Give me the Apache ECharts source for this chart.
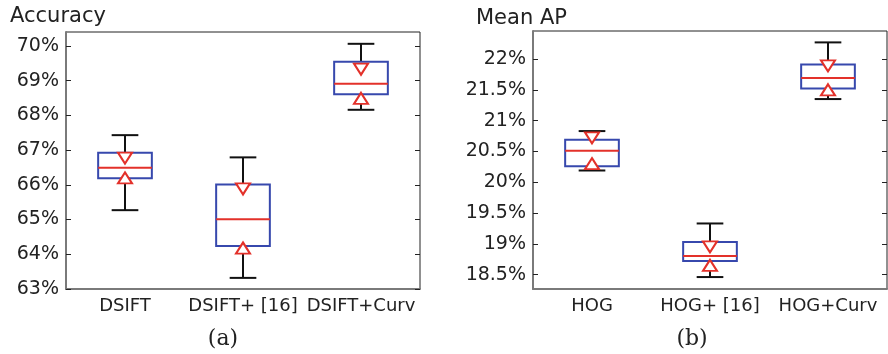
<!DOCTYPE html>
<html>
<head>
<meta charset="utf-8">
<script src="https://cdn.jsdelivr.net/npm/echarts@6/dist/echarts.min.js"></script>
<style>
  html, body { margin: 0; padding: 0; background: #fff; }
  #chart { width: 888px; height: 354px; }
</style>
</head>
<body>
<div id="chart"></div>
<script>
  // panel (a): accuracy
  const catsA = ['DSIFT', 'DSIFT+ [16]', 'DSIFT+Curv'];
  const lowA = [65.27, 63.32, 68.16];
  const q1A = [66.19, 64.24, 68.61];
  const medA = [66.49, 65.01, 68.91];
  const q3A = [66.92, 66.01, 69.54];
  const highA = [67.43, 66.79, 70.06];
  const notchLoA = [66.20, 64.18, 68.49];
  const notchHiA = [66.77, 65.88, 69.33];
  const ticksA = [63, 64, 65, 66, 67, 68, 69, 70];

  // panel (b): mean AP
  const catsB = ['HOG', 'HOG+ [16]', 'HOG+Curv'];
  const lowB = [20.19, 18.46, 21.35];
  const q1B = [20.26, 18.72, 21.52];
  const medB = [20.51, 18.80, 21.69];
  const q3B = [20.69, 19.03, 21.91];
  const highB = [20.83, 19.33, 22.27];
  const notchLoB = [20.30, 18.65, 21.50];
  const notchHiB = [20.72, 18.95, 21.89];
  const ticksB = [18.5, 19, 19.5, 20, 20.5, 21, 21.5, 22];

  const SANS = 'DejaVu Sans';

  function rows(low, q1, med, q3, high) {
    return low.map((v, i) => [i, v, q1[i], med[i], q3[i], high[i]]);
  }

  function renderBox(params, api) {
    const i = api.value(0);
    const band = api.size([1, 0])[0];
    const boxW = band * 0.455;
    const capW = band * 0.226;
    const pLow = api.coord([i, api.value(1)]);
    const pQ1 = api.coord([i, api.value(2)]);
    const pMed = api.coord([i, api.value(3)]);
    const pQ3 = api.coord([i, api.value(4)]);
    const pHigh = api.coord([i, api.value(5)]);
    const x = pMed[0];
    const black = { stroke: '#111', lineWidth: 2 };
    return {
      type: 'group',
      children: [
        { type: 'line', shape: { x1: x, y1: pHigh[1], x2: x, y2: pQ3[1] }, style: black },
        { type: 'line', shape: { x1: x, y1: pQ1[1], x2: x, y2: pLow[1] }, style: black },
        { type: 'line', shape: { x1: x - capW / 2, y1: pHigh[1], x2: x + capW / 2, y2: pHigh[1] }, style: black },
        { type: 'line', shape: { x1: x - capW / 2, y1: pLow[1], x2: x + capW / 2, y2: pLow[1] }, style: black },
        { type: 'rect', shape: { x: x - boxW / 2, y: pQ3[1], width: boxW, height: pQ1[1] - pQ3[1] },
          style: { fill: 'none', stroke: '#3748ad', lineWidth: 2 } },
        { type: 'line', shape: { x1: x - boxW / 2, y1: pMed[1], x2: x + boxW / 2, y2: pMed[1] },
          style: { stroke: '#e3312a', lineWidth: 2 } }
      ]
    };
  }

  function yAxes(gridIndex, min, max, ticks) {
    return [{
      gridIndex: gridIndex,
      type: 'value',
      min: min,
      max: max,
      axisLine: { show: true, lineStyle: { color: '#7a7a7a', width: 2 } },
      axisTick: { show: true, inside: true, length: 5, customValues: ticks, lineStyle: { color: '#222' } },
      axisLabel: { customValues: ticks, formatter: '{value}%', color: '#222', fontFamily: SANS, fontSize: 19, margin: 7 },
      splitLine: { show: false }
    }, {
      gridIndex: gridIndex,
      type: 'value',
      position: 'right',
      min: min,
      max: max,
      axisLine: { show: false },
      axisTick: { show: true, inside: true, length: 5, customValues: ticks, lineStyle: { color: '#222' } },
      axisLabel: { show: false },
      splitLine: { show: false }
    }];
  }

  function xAxis(gridIndex, cats) {
    return {
      gridIndex: gridIndex,
      type: 'category',
      data: cats,
      boundaryGap: true,
      axisLine: { show: true, lineStyle: { color: '#7a7a7a', width: 2 } },
      axisTick: { show: false },
      axisLabel: { interval: 0, color: '#222', fontFamily: SANS, fontSize: 18, margin: 8 },
      splitLine: { show: false }
    };
  }

  function tri(xi, yi, vals, down) {
    return {
      type: 'scatter',
      xAxisIndex: xi,
      yAxisIndex: yi,
      symbol: 'triangle',
      symbolSize: [14, 11],
      symbolRotate: down ? 180 : 0,
      itemStyle: { color: '#fff', borderColor: '#e3312a', borderWidth: 2, opacity: 1 },
      z: 5,
      silent: true,
      data: vals.map((v, i) => [i, v])
    };
  }

  const chart = echarts.init(document.getElementById('chart'), null, { renderer: 'canvas' });
  chart.setOption({
    animation: false,
    backgroundColor: '#fff',
    title: [
      { text: 'Accuracy', left: 5, top: 1, textStyle: { fontFamily: SANS, fontSize: 21, fontWeight: 'normal', color: '#222' } },
      { text: 'Mean AP', left: 471, top: 3, textStyle: { fontFamily: SANS, fontSize: 21, fontWeight: 'normal', color: '#222' } },
      { text: '(a)', left: 218, top: 323, textAlign: 'center', textStyle: { fontFamily: 'DejaVu Serif', fontSize: 22, fontWeight: 'normal', color: '#222' } },
      { text: '(b)', left: 687, top: 323, textAlign: 'center', textStyle: { fontFamily: 'DejaVu Serif', fontSize: 22, fontWeight: 'normal', color: '#222' } }
    ],
    grid: [
      { left: 66, right: 468, top: 32, bottom: 65, show: true, borderColor: '#222', borderWidth: 1 },
      { left: 533, right: 1, top: 31, bottom: 65, show: true, borderColor: '#222', borderWidth: 1 }
    ],
    xAxis: [xAxis(0, catsA), xAxis(1, catsB)],
    yAxis: yAxes(0, 63, 70.4, ticksA).concat(yAxes(1, 18.266, 22.455, ticksB)),
    series: [
      { type: 'custom', xAxisIndex: 0, yAxisIndex: 0, renderItem: renderBox, data: rows(lowA, q1A, medA, q3A, highA), z: 2 },
      tri(0, 0, notchHiA, true),
      tri(0, 0, notchLoA, false),
      { type: 'custom', xAxisIndex: 1, yAxisIndex: 2, renderItem: renderBox, data: rows(lowB, q1B, medB, q3B, highB), z: 2 },
      tri(1, 2, notchHiB, true),
      tri(1, 2, notchLoB, false)
    ]
  });
</script>
</body>
</html>
